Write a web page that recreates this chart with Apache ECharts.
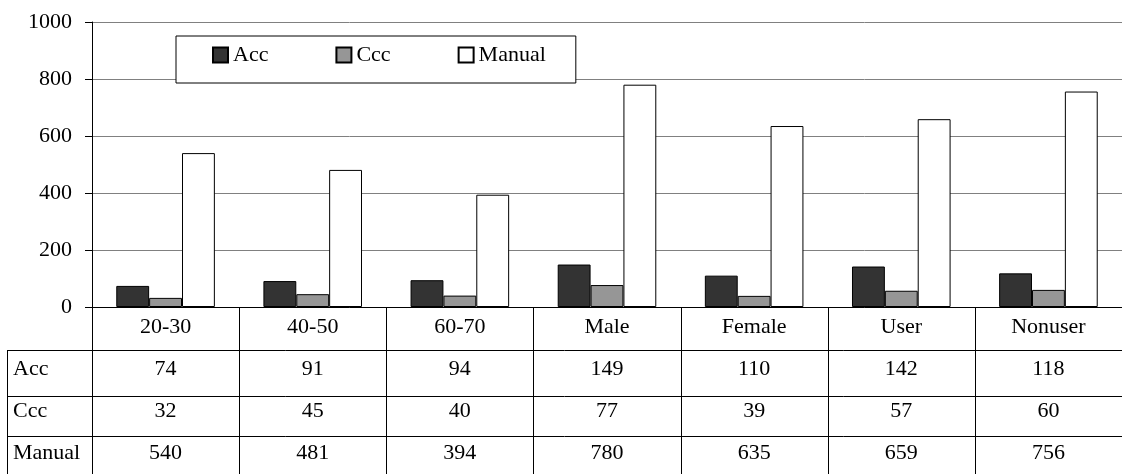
<!DOCTYPE html>
<html><head><meta charset="utf-8">
<script src="https://cdn.jsdelivr.net/npm/echarts@6/dist/echarts.min.js"></script>
<style>html,body{margin:0;padding:0;background:#fff}#c{width:1122px;height:474px}</style>
</head><body><div id="c"></div>
<script>
const categories = ['20-30', '40-50', '60-70', 'Male', 'Female', 'User', 'Nonuser'];
const accValues = [74, 91, 94, 149, 110, 142, 118];
const cccValues = [32, 45, 40, 77, 39, 57, 60];
const manualValues = [540, 481, 394, 780, 635, 659, 756];
const seriesNames = ['Acc', 'Ccc', 'Manual'];
const yTickLabels = ['0', '200', '400', '600', '800', '1000'];

const FONT = "'Liberation Serif', 'Times New Roman', serif";
const FS = 22;
const seriesData = [accValues, cccValues, manualValues];
const seriesColors = ['#333333', '#969696', '#ffffff'];

const chart = echarts.init(document.getElementById('c'), null, {renderer: 'canvas'});
const option = {
  animation: false,
  backgroundColor: '#fff',
  textStyle: {fontFamily: FONT, color: '#000'},
  grid: {left: 92, top: 22, width: 1036, height: 285, containLabel: false},
  legend: {
    data: seriesNames,
    left: 176, top: 36,
    orient: 'horizontal',
    itemGap: 67, itemWidth: 15, itemHeight: 15,
    padding: [8, 30, 17, 36],
    borderColor: '#000', borderWidth: 1, backgroundColor: '#fff',
    textStyle: {fontFamily: FONT, fontSize: FS, color: '#000'},
    icon: 'rect'
  },
  xAxis: {
    type: 'category', data: categories,
    axisLine: {show: true, lineStyle: {color: '#000', width: 1}},
    axisTick: {show: false},
    axisLabel: {show: false},
    splitLine: {show: false}
  },
  yAxis: {
    type: 'value', min: 0, max: 1000, interval: 200,
    axisLine: {show: true, lineStyle: {color: '#000', width: 1}},
    axisTick: {show: true, inside: false, length: 7, lineStyle: {color: '#000'}},
    axisLabel: {fontFamily: FONT, fontSize: FS, color: '#000', margin: 20,
      formatter: function (v) { return yTickLabels[Math.round(v / 200)]; }},
    splitLine: {show: true, lineStyle: {color: '#808080', width: 1}}
  },
  series: seriesNames.map(function (name, i) {
    return {
      name: name, type: 'bar', data: seriesData[i],
      barGap: '0%', barCategoryGap: '33%',
      itemStyle: {color: seriesColors[i], borderColor: '#000', borderWidth: 1}
    };
  })
};
chart.setOption(option);

// data table under the axis, positioned from the axis scales
const c0 = chart.convertToPixel({xAxisIndex: 0}, 0);
const c1 = chart.convertToPixel({xAxisIndex: 0}, 1);
const band = c1 - c0;
const yZero = chart.convertToPixel({yAxisIndex: 0}, 0);
const leftEdge = c0 - band / 2;
const rightEdge = c0 + band * (categories.length - 0.5);
const H = 474;
const rowLines = [yZero + 43, yZero + 89, yZero + 129];
const textCenters = [yZero + 20, yZero + 62, yZero + 104, yZero + 146];
const tableLeft = 7;
const lineStyle = {stroke: '#000', lineWidth: 1};
const els = [];
function hline(y, x1, x2) {
  y = Math.round(y) + 0.5;
  els.push({type: 'line', shape: {x1: x1, y1: y, x2: x2, y2: y}, style: lineStyle, silent: true});
}
function vline(x, y1, y2) {
  x = Math.round(x) + 0.5;
  els.push({type: 'line', shape: {x1: x, y1: y1, x2: x, y2: y2}, style: lineStyle, silent: true});
}
function txt(s, x, y, align) {
  els.push({type: 'text', x: x, y: y, silent: true,
    style: {text: s, font: FS + 'px ' + FONT, fill: '#000', align: align, verticalAlign: 'middle'}});
}
for (let k = 0; k <= categories.length; k++) vline(leftEdge + band * k, yZero, H);
vline(tableLeft, rowLines[0], H);
rowLines.forEach(function (y) { hline(y, tableLeft, rightEdge); });
categories.forEach(function (cat, i) {
  const cx = chart.convertToPixel({xAxisIndex: 0}, i);
  txt(cat, cx, textCenters[0], 'center');
  seriesData.forEach(function (arr, r) { txt(String(arr[i]), cx, textCenters[r + 1], 'center'); });
});
seriesNames.forEach(function (n, r) { txt(n, tableLeft + 6, textCenters[r + 1], 'left'); });
chart.setOption({graphic: {elements: els}});
</script>
</body></html>
